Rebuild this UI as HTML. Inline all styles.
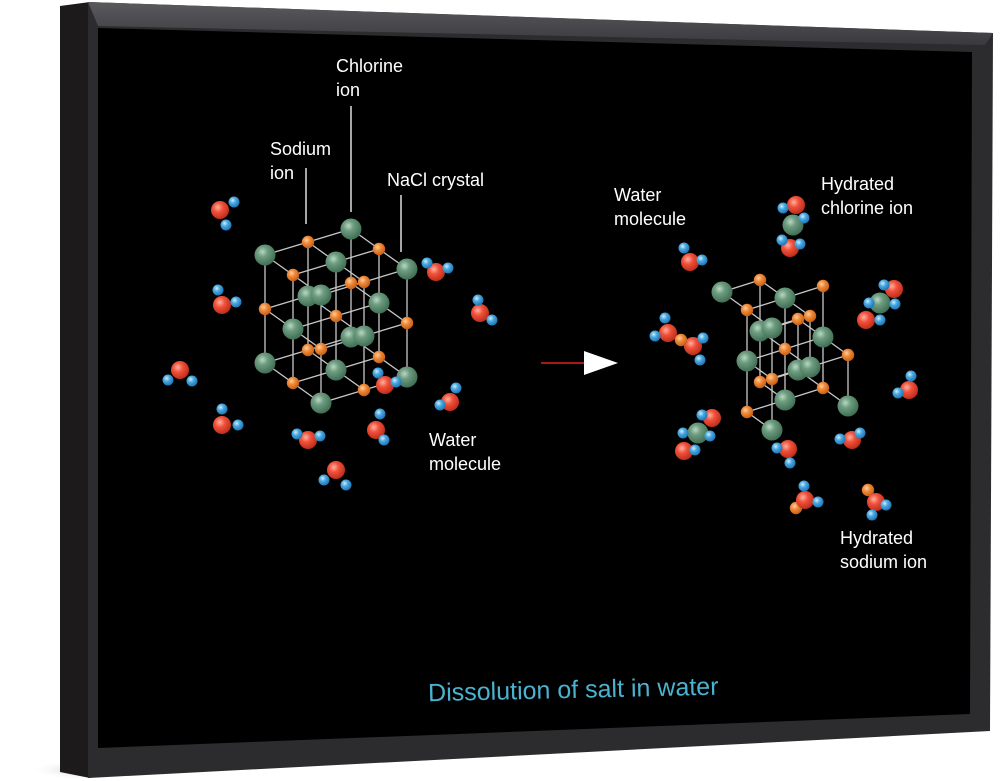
<!DOCTYPE html>
<html><head><meta charset="utf-8"><style>
html,body{margin:0;padding:0;background:#fff;width:1000px;height:781px;overflow:hidden}
svg{display:block}
text{font-family:"Liberation Sans",sans-serif;fill:#fff;font-size:18px}
</style></head><body>
<svg id="s" width="1000" height="781" viewBox="0 0 1000 781" xmlns="http://www.w3.org/2000/svg">
<defs>
<radialGradient id="gG" cx="0.38" cy="0.35" r="0.7"><stop offset="0" stop-color="#b8d8c4"/><stop offset="0.35" stop-color="#6e9c80"/><stop offset="1" stop-color="#3c6a50"/></radialGradient>
<radialGradient id="gO" cx="0.38" cy="0.35" r="0.7"><stop offset="0" stop-color="#ffd0a0"/><stop offset="0.4" stop-color="#f08a3a"/><stop offset="1" stop-color="#c05a10"/></radialGradient>
<radialGradient id="gR" cx="0.38" cy="0.35" r="0.7"><stop offset="0" stop-color="#ffb0a0"/><stop offset="0.4" stop-color="#f0503a"/><stop offset="1" stop-color="#b82a18"/></radialGradient>
<radialGradient id="gB" cx="0.38" cy="0.35" r="0.7"><stop offset="0" stop-color="#d0f0ff"/><stop offset="0.4" stop-color="#4aa8e0"/><stop offset="1" stop-color="#1a70b0"/></radialGradient>
<linearGradient id="top" x1="0" y1="0" x2="0" y2="1"><stop offset="0" stop-color="#5a5a5e"/><stop offset="1" stop-color="#3a3a3e"/></linearGradient>
<radialGradient id="shad" cx="0.5" cy="0.5" r="0.5"><stop offset="0" stop-color="#bbb"/><stop offset="1" stop-color="#fff" stop-opacity="0"/></radialGradient>
</defs>
<ellipse cx="90" cy="770" rx="60" ry="10" fill="url(#shad)"/>
<polygon points="60,6 90,2 90,778 60,772" fill="#1c1a1a"/>
<polygon points="88,2 993,33 990,731 88,778" fill="#2c2c2e"/>
<polygon points="88,2 993,33 985,45 98,26" fill="url(#top)"/>
<polygon points="98,28 972,52 970,714 98,748" fill="#000"/>
<g id="content"></g>
<g stroke="#fff" stroke-width="1.3">
<line x1="306" y1="168" x2="306" y2="224"/>
<line x1="351" y1="106" x2="351" y2="212"/>
<line x1="401" y1="195" x2="401" y2="252"/>
</g>
<text x="336" y="72">Chlorine</text><text x="336" y="96">ion</text>
<text x="270" y="155">Sodium</text><text x="270" y="179">ion</text>
<text x="387" y="186">NaCl crystal</text>
<text x="429" y="446">Water</text><text x="429" y="470">molecule</text>
<text x="614" y="201">Water</text><text x="614" y="225">molecule</text>
<text x="821" y="190">Hydrated</text><text x="821" y="214">chlorine ion</text>
<text x="840" y="544">Hydrated</text><text x="840" y="568">sodium ion</text>
<line x1="541" y1="363" x2="590" y2="363" stroke="#e02020" stroke-width="1.5"/>
<polygon points="584,351 618,363 584,375" fill="#fff"/>
<text x="428" y="698" transform="rotate(-1.3 570 686)" style="fill:#4bb3d0;font-size:25px">Dissolution of salt in water</text>
</svg>
<script>
var NS="http://www.w3.org/2000/svg",g=document.getElementById("content");
function el(n,a){var e=document.createElementNS(NS,n);for(var k in a)e.setAttribute(k,a[k]);g.appendChild(e);return e;}
function ball(x,y,t){var r={G:10.5,O:6.2,R:9,B:5.5}[t];el("circle",{cx:x,cy:y,r:r,fill:"url(#g"+t+")"});}
function lattice(ox,oy,a,b,c,missing){
 var P={};
 for(var i=0;i<3;i++)for(var j=0;j<3;j++)for(var k=0;k<3;k++){
  var key=i+","+j+","+k; if(missing.indexOf(key)>=0)continue;
  P[key]=[ox+a[0]*i+b[0]*j+c[0]*k, oy+a[1]*i+b[1]*j+c[1]*k,(i+j+k)%2==0?"G":"O",j-i+k*0.1];
 }
 for(var key in P){var p=key.split(",").map(Number);
  [[1,0,0],[0,1,0],[0,0,1]].forEach(function(d){var q=(p[0]+d[0])+","+(p[1]+d[1])+","+(p[2]+d[2]);
   if(P[q])el("line",{x1:P[key][0],y1:P[key][1],x2:P[q][0],y2:P[q][1],stroke:"#c8c8c8","stroke-width":1.3});});}
 var arr=Object.keys(P).map(function(k){return P[k];}).sort(function(u,v){return u[3]-v[3];});
 arr.forEach(function(p){ball(p[0],p[1],p[2]);});
}
lattice(265,255,[43,-13],[28,20],[0,54],[]);
lattice(722,292,[38,-12],[25,18],[0,51],["2,0,0","2,2,0","0,0,1","0,0,2","1,2,2"]);
function w(o,h1,h2){ball(o[0],o[1],"R");ball(h1[0],h1[1],"B");ball(h2[0],h2[1],"B");}
w([220,210],[234,202],[226,225]);
w([222,305],[218,290],[236,302]);
w([180,370],[168,380],[192,381]);
w([222,425],[222,409],[238,425]);
w([308,440],[297,434],[320,436]);
w([336,470],[324,480],[346,485]);
w([376,430],[380,414],[384,440]);
w([385,385],[378,373],[396,382]);
w([436,272],[427,263],[448,268]);
w([480,313],[478,300],[492,320]);
w([450,402],[440,405],[456,388]);
w([690,262],[684,248],[702,260]);
function hc(c,o1,o2,hs){ball(o1[0],o1[1],"R");ball(c[0],c[1],"G");ball(o2[0],o2[1],"R");hs.forEach(function(h){ball(h[0],h[1],"B");});}
hc([793,225],[796,205],[790,248],[[783,208],[804,218],[782,240],[800,244]]);
hc([880,303],[894,289],[866,320],[[884,285],[895,304],[869,303],[880,320]]);
hc([698,433],[712,418],[684,451],[[702,415],[710,436],[683,433],[695,450]]);
ball(668,333,"R");ball(693,346,"R");ball(681,340,"O");
[[665,318],[655,336],[703,338],[700,360]].forEach(function(h){ball(h[0],h[1],"B");});
w([909,390],[911,376],[898,393]);
w([788,449],[777,448],[790,463]);
w([852,440],[840,439],[860,433]);
ball(796,508,"O");w([805,500],[804,486],[818,502]);
ball(868,490,"O");w([876,502],[886,505],[872,515]);
</script>
</body></html>
